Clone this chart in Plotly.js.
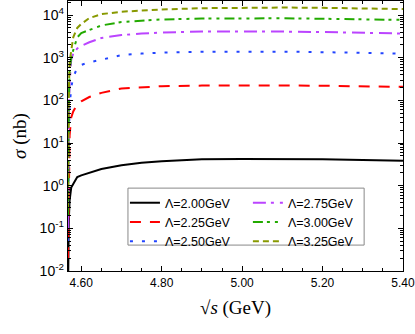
<!DOCTYPE html>
<html>
<head>
<meta charset="utf-8">
<script src="https://cdn.plot.ly/plotly-3.0.1.min.js"></script>
<style>
  html, body { margin: 0; padding: 0; background: #fff; }
  #graph { width: 415px; height: 334px; }
</style>
</head>
<body>
<div id="graph"></div>
<script>
// sqrt(s) in GeV
const sqrtS = [4.5672, 4.568, 4.569, 4.571, 4.575, 4.58, 4.59, 4.60, 4.62, 4.65,
               4.70, 4.75, 4.80, 4.90, 5.00, 5.10, 5.20, 5.30, 5.40];

// cross sections in nb, one array per cutoff
const sigma200 = [0.004, 0.03, 0.15, 0.45, 0.9, 1.1, 1.6, 1.75, 2.0, 2.45,
                  3.0, 3.45, 3.75, 4.15, 4.25, 4.25, 4.15, 4.0, 3.85];
const sigma225 = [0.02, 0.3, 3, 15, 40, 55, 80, 95, 120, 150,
                  190, 205, 215, 222, 225, 224, 220, 214, 208];
const sigma250 = [0.05, 1, 12, 70, 200, 350, 580, 680, 780, 900,
                  1150, 1250, 1320, 1380, 1400, 1390, 1350, 1300, 1250];
const sigma275 = [0.1, 3, 40, 250, 900, 1250, 1650, 1900, 2300, 2900,
                  3400, 3700, 3900, 4100, 4150, 4100, 4000, 3850, 3700];
const sigma300 = [0.2, 5, 80, 500, 1000, 1500, 3000, 3800, 4400, 5700,
                  6900, 7500, 7900, 8300, 8400, 8400, 8200, 8000, 7700];
const sigma325 = [0.3, 8, 150, 800, 1500, 3000, 5000, 6200, 8500, 10500,
                  12000, 12800, 13500, 14500, 15000, 15000, 14800, 14300, 13800];

const seriesNames = ["Λ=2.00GeV", "Λ=2.25GeV", "Λ=2.50GeV",
                     "Λ=2.75GeV", "Λ=3.00GeV", "Λ=3.25GeV"];

const yTickVals = [0.01, 0.1, 1, 10, 100, 1000, 10000];
const yTickText = ["10<sup>-2</sup>", "10<sup>-1</sup>", "10<sup>0</sup>", "10<sup>1</sup>",
                   "10<sup>2</sup>", "10<sup>3</sup>", "10<sup>4</sup>"];

const styles = [
  { color: "#000000", dash: "solid", legend: "legend" },
  { color: "#ff0000", dash: "11px,9px", legend: "legend" },
  { color: "#2244ff", dash: "3px,9px", legend: "legend" },
  { color: "#bb44ff", dash: "13px,5px,3px,6px", legend: "legend2" },
  { color: "#22aa00", dash: "10px,4px,3px,5px,3px,5px", legend: "legend2" },
  { color: "#889900", dash: "6px,4px", legend: "legend2" },
];

const allSigma = [sigma200, sigma225, sigma250, sigma275, sigma300, sigma325];

const traces = allSigma.map((ys, i) => ({
  x: sqrtS,
  y: ys,
  type: "scatter",
  mode: "lines",
  name: seriesNames[i],
  legend: styles[i].legend,
  line: { color: styles[i].color, width: 2, dash: styles[i].dash },
}));

const legendCommon = {
  xanchor: "left",
  yanchor: "top",
  y: 0.307,
  bgcolor: "rgba(0,0,0,0)",
  borderwidth: 0,
  font: { family: "Liberation Sans, Arial", size: 12.5, color: "#000" },
  tracegroupgap: 0,
};

const layout = {
  width: 415,
  height: 334,
  margin: { l: 68, r: 12, t: 1, b: 63 },
  paper_bgcolor: "#fff",
  plot_bgcolor: "#fff",
  showlegend: true,
  legend: Object.assign({ x: 0.170 }, legendCommon),
  legend2: Object.assign({ x: 0.537 }, legendCommon),
  xaxis: {
    range: [4.567, 5.4001],
    tick0: 4.6,
    dtick: 0.2,
    tickformat: ".2f",
    ticks: "inside",
    ticklen: 5,
    tickcolor: "#000",
    mirror: "allticks",
    showline: true,
    linecolor: "#000",
    linewidth: 1.3,
    showgrid: false,
    zeroline: false,
    minor: { dtick: 0.05, ticks: "inside", ticklen: 3, tickcolor: "#000", showgrid: false },
    tickfont: { family: "Liberation Sans, Arial", size: 12, color: "#000" },
    title: {
      text: "√<i>s</i> (GeV)",
      font: { family: "Liberation Serif, Times New Roman", size: 19, color: "#000" },
      standoff: 12,
    },
  },
  yaxis: {
    type: "log",
    range: [-2, 4.33],
    tickmode: "array",
    tickvals: yTickVals,
    ticktext: yTickText,
    ticks: "inside",
    ticklen: 5,
    tickcolor: "#000",
    mirror: "allticks",
    showline: true,
    linecolor: "#000",
    linewidth: 1.3,
    showgrid: false,
    zeroline: false,
    minor: { dtick: "D1", ticks: "inside", ticklen: 3, tickcolor: "#000", showgrid: false },
    tickfont: { family: "Liberation Sans, Arial", size: 14, color: "#000" },
    title: {
      text: "<i>σ</i> (nb)",
      font: { family: "Liberation Serif, Times New Roman", size: 19, color: "#000" },
      standoff: 8,
    },
  },
  shapes: [
    {
      type: "rect",
      xref: "paper",
      yref: "paper",
      x0: 0.179,
      x1: 0.884,
      y0: 0.096,
      y1: 0.307,
      line: { color: "#888", width: 1 },
      fillcolor: "#fff",
      layer: "above",
    },
  ],
};

Plotly.newPlot("graph", traces, layout, { displayModeBar: false, staticPlot: true });
</script>
</body>
</html>
